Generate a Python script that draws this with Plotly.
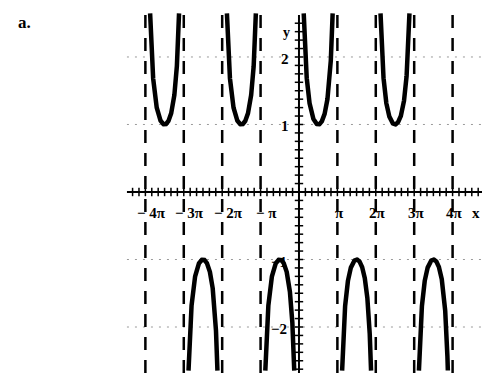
import numpy as np
import plotly.graph_objects as go

# ---- chart content ----
func_name = "csc"                      # y = csc(x), x measured in multiples of pi
branch_starts = [-4, -3, -2, -1, 0, 1, 2, 3]   # intervals (k*pi, (k+1)*pi) that are drawn
asymptotes = [-4, -3, -2, -1, 1, 2, 3, 4]      # dashed vertical asymptotes (multiples of pi)
x_tick_vals = [-4, -3, -2, -1, 1, 2, 3, 4]
x_tick_text = ["\u2212 4\u03c0", "\u2212 3\u03c0", "\u2212 2\u03c0", "\u2212 \u03c0", "\u03c0", "2\u03c0", "3\u03c0", "4\u03c0"]
y_tick_vals = [2, 1, -1, -2]
y_tick_text = ["2", "1", "\u22121", "\u22122"]
grid_vals = [2, 1, -1, -2]
y_clip = 2.65

# ---- axis ranges (x in units of pi) ----
X_RANGE = [-7.786, 4.766]
Y_RANGE = [-2.711, 2.844]
X_AXIS_SPAN = [-4.48, 4.8]
Y_AXIS_SPAN = [-2.68, 2.62]

fig = go.Figure()

shapes = []
# dotted gridlines
for g in grid_vals:
    shapes.append(dict(type="line", xref="x", yref="y", x0=X_AXIS_SPAN[0], x1=X_AXIS_SPAN[1], y0=g, y1=g,
                       line=dict(color="#9a9a9a", width=1, dash="2px,6px"), layer="below"))
# dashed asymptotes
for a in asymptotes:
    shapes.append(dict(type="line", xref="x", yref="y", x0=a, x1=a, y0=-2.68, y1=2.72,
                       line=dict(color="black", width=2.5, dash="13px,10px")))
# axes
shapes.append(dict(type="line", xref="x", yref="y", x0=X_AXIS_SPAN[0], x1=X_AXIS_SPAN[1], y0=0, y1=0,
                   line=dict(color="black", width=2)))
shapes.append(dict(type="line", xref="x", yref="y", x0=0, x1=0, y0=Y_AXIS_SPAN[0], y1=Y_AXIS_SPAN[1],
                   line=dict(color="black", width=2)))

# small tick marks on the x axis (every pi/6) and y axis (every 1/8)
xt = np.arange(-26, 29) / 6.0
fig.add_trace(go.Scatter(x=xt, y=np.zeros_like(xt), mode="markers",
                         marker=dict(symbol="line-ns", size=6, line=dict(width=1.5, color="black")),
                         hoverinfo="skip", showlegend=False))
yt = np.arange(-21, 21) / 8.0
fig.add_trace(go.Scatter(x=np.zeros_like(yt), y=yt, mode="markers",
                         marker=dict(symbol="line-ew", size=6, line=dict(width=1.5, color="black")),
                         hoverinfo="skip", showlegend=False))

# csc branches
for k in branch_starts:
    t = np.linspace(k + 0.001, k + 0.999, 800)
    y = 1.0 / np.sin(np.pi * t)
    m = np.abs(y) <= y_clip
    fig.add_trace(go.Scatter(x=t[m], y=y[m], mode="lines", line=dict(color="black", width=4.5),
                             hoverinfo="skip", showlegend=False))

annotations = []
label_font = dict(family="Liberation Serif, serif", size=15, color="black")
for v, txt in zip(x_tick_vals, x_tick_text):
    shift = 6 if v < 0 else 2
    annotations.append(dict(x=v, y=0, xref="x", yref="y", text="<b>%s</b>" % txt, showarrow=False,
                            yshift=-21, xshift=shift, font=label_font))
for v, txt in zip(y_tick_vals, y_tick_text):
    annotations.append(dict(x=0, y=v, xref="x", yref="y", text="<b>%s</b>" % txt, showarrow=False,
                            xshift=-14 if v > 0 else -20, yshift=-2, font=label_font))
annotations.append(dict(x=0, y=2.37, xref="x", yref="y", text="<b>y</b>", showarrow=False, xshift=-12,
                        font=dict(family="Liberation Serif, serif", size=14, color="black")))
annotations.append(dict(x=4.6, y=0, xref="x", yref="y", text="<b>x</b>", showarrow=False, yshift=-21,
                        font=label_font))
annotations.append(dict(x=16 / 482, y=1 - 11 / 375, xref="paper", yref="paper", text="<b>a.</b>",
                        showarrow=False, font=dict(family="Liberation Serif, serif", size=17, color="black")))

fig.update_layout(
    width=482, height=375,
    margin=dict(l=0, r=0, t=0, b=0),
    paper_bgcolor="white", plot_bgcolor="white",
    xaxis=dict(range=X_RANGE, visible=False, fixedrange=True),
    yaxis=dict(range=Y_RANGE, visible=False, fixedrange=True),
    shapes=shapes,
    annotations=annotations,
    showlegend=False,
    hovermode=False,
)

fig.write_html("out.html", config={"displayModeBar": False, "staticPlot": True},
               post_script="document.body.style.margin='0';")
